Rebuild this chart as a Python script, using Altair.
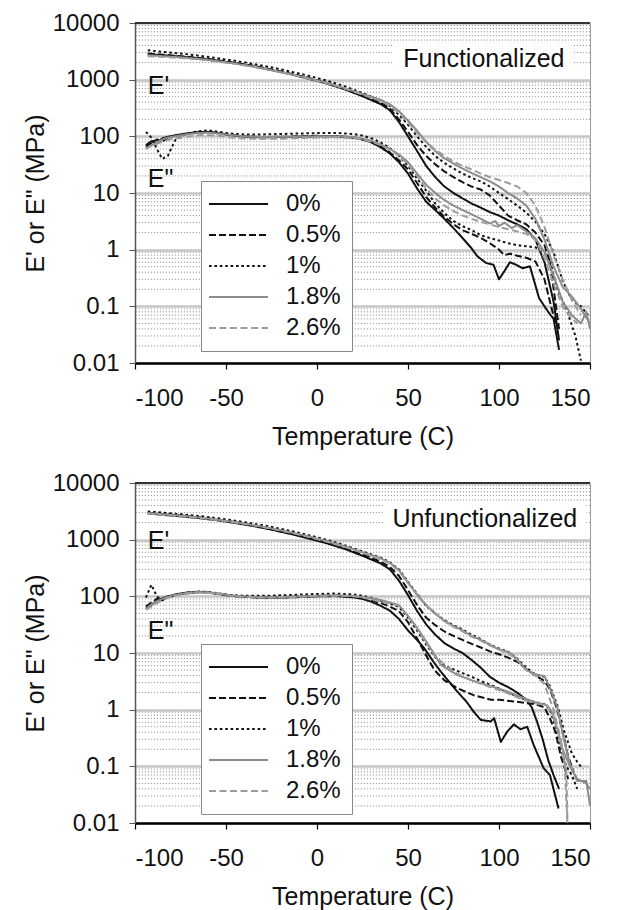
import altair as alt
import pandas as pd

FONT = "Liberation Sans"
SERIES = ["0%", "0.5%", "1%", "1.8%", "2.6%"]
COLORS = ["#111111", "#111111", "#111111", "#8c8c8c", "#9c9c9c"]
DASHES = [[1, 0], [7, 3], [2.6, 2.8], [1, 0], [7, 3.5]]
WIDTHS = [2.0, 2.0, 3.0, 2.2, 2.2]
X_TICKS = [-100, -50, 0, 50, 100, 150]
Y_TICKS = [0.01, 0.1, 1, 10, 100, 1000, 10000]
MINOR = [k * 10.0 ** n for n in range(-2, 4) for k in range(2, 10)]

# ---- low-temperature part (shared temperatures) ----
LOW_T_EP = [-93, -85, -75, -65, -55, -45, -35, -25, -15, -5, 5, 15, 25, 35, 40, 45]
LOW_T_EPP = [-94, -91, -88, -85, -82, -78, -72, -66, -60, -54, -48, -40, -30, -20, -10, 0, 10, 20, 25, 30, 35, 40, 45]

# Functionalized: storage modulus E'
F_EP_LOW = {
    "0%":   [2800, 2700, 2550, 2380, 2180, 1950, 1720, 1480, 1260, 1050, 860, 680, 510, 370, 290, 180],
    "0.5%": [2900, 2760, 2600, 2420, 2220, 1980, 1760, 1510, 1290, 1080, 880, 700, 530, 390, 310, 200],
    "1%":   [3300, 3100, 2900, 2650, 2400, 2150, 1900, 1650, 1400, 1180, 970, 770, 580, 430, 345, 240],
    "1.8%": [2700, 2600, 2480, 2320, 2130, 1920, 1700, 1470, 1260, 1060, 880, 710, 560, 440, 370, 280],
    "2.6%": [2600, 2520, 2420, 2280, 2100, 1900, 1690, 1460, 1250, 1050, 870, 700, 545, 420, 350, 260],
}
F_EP_HIGH = {
    "0%":   [(50, 100), (55, 55), (60, 30), (65, 19), (70, 13), (75, 10), (80, 8), (85, 6.5), (90, 5.5), (95, 4.6), (100, 4), (105, 3.3), (110, 2.8), (115, 2.3), (120, 1.5), (125, 0.6), (130, 0.12), (133, 0.025)],
    "0.5%": [(50, 120), (55, 70), (60, 45), (65, 32), (70, 24), (75, 19), (80, 15.5), (85, 13), (90, 11.5), (95, 9), (100, 6), (105, 4), (110, 3.3), (115, 2.8), (120, 2.0), (125, 1.2), (128, 0.6), (131, 0.12), (133, 0.04)],
    "1%":   [(50, 160), (55, 100), (60, 65), (65, 45), (70, 34), (75, 27), (80, 22), (85, 18.5), (90, 16), (95, 13), (100, 10), (105, 7.8), (110, 6), (115, 4.5), (120, 3.1), (125, 1.9), (130, 0.9), (135, 0.28), (140, 0.13), (145, 0.1), (149, 0.07)],
    "1.8%": [(50, 190), (55, 125), (60, 80), (65, 55), (70, 41), (75, 33), (80, 27), (85, 22.5), (90, 19), (95, 16), (100, 13), (105, 10), (110, 8), (115, 6), (120, 3.5), (125, 1.5), (130, 0.5), (135, 0.22), (140, 0.15), (145, 0.09), (150, 0.05)],
    "2.6%": [(50, 175), (55, 115), (60, 80), (65, 58), (70, 45), (75, 36), (80, 30), (85, 26), (90, 22), (95, 19), (100, 17), (105, 15), (110, 13), (115, 10), (120, 6), (125, 2.5), (130, 0.8), (135, 0.3), (140, 0.13), (145, 0.07)],
}
# Functionalized: loss modulus E"
F_EPP_LOW = {
    "0%":   [70, 82, 76, 92, 98, 104, 112, 118, 120, 114, 106, 99, 96, 97, 98, 100, 100, 95, 88, 78, 64, 50, 35],
    "0.5%": [65, 75, 88, 80, 95, 102, 110, 117, 119, 113, 106, 100, 97, 98, 100, 102, 101, 96, 89, 79, 66, 52, 38],
    "1%":   [120, 95, 60, 40, 45, 85, 110, 122, 128, 120, 112, 108, 108, 110, 112, 114, 115, 110, 103, 92, 78, 62, 45],
    "1.8%": [60, 70, 78, 88, 95, 100, 108, 114, 116, 112, 106, 100, 97, 98, 99, 100, 100, 97, 91, 83, 72, 60, 48],
    "2.6%": [62, 68, 74, 80, 86, 92, 98, 104, 106, 102, 96, 92, 90, 91, 93, 95, 96, 93, 87, 80, 70, 58, 45],
}
F_EPP_HIGH = {
    "0%":   [(50, 22), (55, 12), (60, 7), (65, 5), (70, 3.5), (75, 2.4), (80, 1.6), (85, 1.05), (88, 0.77), (93, 0.58), (97, 0.54), (100, 0.3), (103, 0.42), (106, 0.6), (109, 0.55), (113, 0.47), (117, 0.51), (122, 0.14), (127, 0.08), (130, 0.06), (133, 0.017)],
    "0.5%": [(50, 26), (55, 15), (60, 8.5), (65, 5.5), (70, 3.8), (75, 2.8), (80, 2.2), (85, 1.9), (90, 1.6), (95, 1.3), (100, 1.0), (103, 0.8), (106, 0.85), (110, 0.78), (115, 0.72), (120, 0.62), (125, 0.3), (128, 0.12), (131, 0.05)],
    "1%":   [(50, 30), (55, 18), (60, 11), (65, 6.5), (70, 4.4), (75, 3.2), (80, 2.6), (85, 2.2), (90, 1.8), (95, 1.6), (100, 1.45), (105, 1.3), (110, 1.2), (115, 1.15), (120, 1.1), (125, 0.9), (128, 0.65), (132, 0.2), (137, 0.09), (142, 0.03), (145, 0.011)],
    "1.8%": [(50, 35), (55, 22), (60, 14), (65, 10), (70, 7.5), (75, 6), (80, 5), (85, 4.2), (90, 3.5), (95, 2.9), (98, 3.2), (100, 2.6), (103, 3.0), (107, 2.4), (110, 2.7), (115, 2.1), (120, 1.6), (125, 0.9), (130, 0.35), (135, 0.12), (140, 0.07), (145, 0.05), (148, 0.08), (150, 0.04)],
    "2.6%": [(50, 32), (55, 20), (60, 12), (65, 8), (70, 6), (75, 4.8), (80, 4), (85, 3.5), (90, 3.1), (95, 2.8), (100, 2.5), (105, 2.3), (110, 2.1), (115, 1.9), (120, 1.5), (125, 0.7), (130, 0.25), (135, 0.1), (140, 0.06), (143, 0.05)],
}

# Unfunctionalized: storage modulus E'
U_EP_LOW = {
    "0%":   [2900, 2750, 2580, 2400, 2200, 1970, 1740, 1500, 1270, 1060, 870, 690, 520, 380, 300, 190],
    "0.5%": [3000, 2850, 2680, 2480, 2270, 2030, 1790, 1550, 1320, 1100, 900, 720, 550, 410, 330, 230],
    "1%":   [3150, 3000, 2820, 2620, 2400, 2160, 1920, 1680, 1440, 1210, 1000, 800, 620, 480, 400, 300],
    "1.8%": [2950, 2800, 2640, 2460, 2260, 2040, 1810, 1580, 1360, 1150, 950, 770, 600, 470, 390, 290],
    "2.6%": [2900, 2760, 2600, 2420, 2230, 2010, 1790, 1560, 1340, 1130, 930, 750, 585, 455, 380, 280],
}
U_EP_HIGH = {
    "0%":   [(50, 105), (55, 55), (60, 32), (65, 21), (70, 15), (75, 12), (80, 10), (85, 7.5), (90, 5.5), (95, 3.8), (100, 3.0), (105, 2.5), (110, 2.0), (115, 1.5), (118, 1.1), (121, 0.6), (124, 0.3), (127, 0.13), (130, 0.07), (133, 0.04)],
    "0.5%": [(50, 130), (55, 70), (60, 42), (65, 31), (70, 24), (75, 20), (80, 17), (85, 14.5), (90, 12.5), (95, 10.7), (100, 9.5), (105, 8.3), (110, 7), (115, 5.2), (120, 4), (125, 3.2), (128, 2.3), (132, 1.0), (135, 0.4), (138, 0.15), (141, 0.08)],
    "1%":   [(50, 180), (55, 110), (60, 68), (65, 50), (70, 38), (75, 31), (80, 26), (85, 21), (90, 17.5), (95, 14), (100, 12), (105, 10.5), (110, 8), (115, 5.5), (120, 4.2), (125, 3.8), (128, 2.6), (132, 1.2), (136, 0.4), (140, 0.17), (143, 0.12), (146, 0.09)],
    "1.8%": [(50, 175), (55, 108), (60, 70), (65, 50), (70, 37), (75, 30), (80, 25), (85, 20), (90, 17), (95, 14), (100, 11.5), (105, 10.5), (110, 7.8), (115, 5), (120, 4.2), (125, 3.9), (128, 2.4), (132, 1.1), (135.5, 0.32), (139, 0.11), (143, 0.055), (148, 0.055), (150, 0.02)],
    "2.6%": [(50, 170), (55, 105), (60, 68), (65, 49), (70, 36), (75, 29), (80, 24), (85, 19.5), (90, 16.5), (95, 13.5), (100, 11.5), (105, 10), (110, 7.5), (115, 5), (120, 4), (125, 2.8), (130, 1.0), (134, 0.3), (137, 0.08), (137.6, 0.01)],
}
# Unfunctionalized: loss modulus E"
U_EPP_LOW = {
    "0%":   [62, 70, 85, 92, 100, 108, 116, 120, 118, 110, 103, 98, 95, 95, 97, 100, 101, 96, 90, 80, 68, 56, 40],
    "0.5%": [66, 78, 90, 86, 98, 106, 114, 118, 117, 110, 103, 98, 95, 96, 99, 102, 103, 98, 93, 85, 76, 66, 55],
    "1%":   [95, 160, 100, 85, 95, 104, 115, 122, 120, 113, 106, 102, 102, 104, 107, 110, 112, 108, 102, 94, 84, 75, 65],
    "1.8%": [60, 72, 82, 90, 98, 106, 114, 119, 118, 112, 104, 99, 96, 97, 99, 102, 104, 101, 97, 92, 86, 78, 70],
    "2.6%": [58, 66, 76, 84, 94, 102, 110, 116, 115, 110, 103, 98, 95, 96, 98, 101, 103, 100, 95, 88, 80, 76, 68],
}
U_EPP_HIGH = {
    "0%":   [(50, 25), (55, 17), (59, 12), (64, 7), (68, 4.7), (73, 3), (77, 2.1), (82, 1.4), (86, 0.93), (90, 0.66), (95.5, 0.62), (97.3, 0.71), (101, 0.27), (104.5, 0.41), (108.2, 0.55), (111.8, 0.45), (115.5, 0.5), (119, 0.24), (124.5, 0.093), (128, 0.07), (132.7, 0.018)],
    "0.5%": [(50, 35), (55, 18), (60, 9), (64.5, 5), (70, 3.3), (77, 2.4), (86, 1.8), (95.5, 1.5), (100, 1.5), (108, 1.4), (115.5, 1.3), (120, 1.25), (125, 1.1), (128, 0.7), (131, 0.4), (134, 0.15), (138, 0.06)],
    "1%":   [(50, 42), (55, 25), (60, 14), (65, 8.5), (70, 6), (78, 4.7), (85, 3.8), (90, 3.2), (97, 2.6), (105, 2.0), (112, 1.6), (118, 1.4), (125, 1.25), (128, 1.0), (131, 0.5), (134, 0.2), (137, 0.1), (140, 0.07), (143, 0.04)],
    "1.8%": [(50, 45), (55, 28), (60, 16), (65, 9), (68, 6.2), (77, 4.1), (86, 3.2), (95.5, 2.6), (104.5, 2.1), (113.6, 1.6), (120, 1.35), (126.4, 1.2), (129, 0.9), (132, 0.45), (135, 0.2), (139, 0.1), (143, 0.06), (148, 0.05), (150, 0.04)],
    "2.6%": [(50, 44), (55, 27), (60, 15), (65, 8.8), (70, 6.3), (77, 4.3), (86, 3.2), (95, 2.5), (104, 2.0), (113, 1.5), (120, 1.3), (126, 1.2), (130, 0.8), (133, 0.35), (136, 0.12), (137.6, 0.01)],
}

# annotation text
PANEL_NAMES = ["Functionalized", "Unfunctionalized"]
PANEL_NAME_T = [136, 143]
PANEL_NAME_V = [2350, 2350]
EP_LABEL_V = [780, 950]
EPP_LABEL_V = [17.8, 24.6]
LABEL_T = -93
BOX_T = [(42, 141), (37, 148)]
BOX_V = (1450, 4300)
LEGEND_Y = [158, 161]


def build_rows(panel, ep_low, ep_high, epp_low, epp_high):
    rows = []
    for s in SERIES:
        pts_ep = list(zip(LOW_T_EP, ep_low[s])) + ep_high[s]
        pts_epp = list(zip(LOW_T_EPP, epp_low[s])) + epp_high[s]
        for curve, pts in (("E'", pts_ep), ('E"', pts_epp)):
            for i, (t, v) in enumerate(pts):
                rows.append({"panel": panel, "series": s, "curve": curve, "T": t, "v": v, "i": i})
    return rows


df = pd.DataFrame(
    build_rows("F", F_EP_LOW, F_EP_HIGH, F_EPP_LOW, F_EPP_HIGH)
    + build_rows("U", U_EP_LOW, U_EP_HIGH, U_EPP_LOW, U_EPP_HIGH)
)

xscale = alt.Scale(domain=[-100, 150], nice=False, zero=False)
yscale = alt.Scale(type="log", domain=[0.01, 10000], nice=False)
xaxis = alt.Axis(values=X_TICKS, labelExpr="'' + datum.value", title="Temperature (C)",
                 grid=False, tickSize=6, labelPadding=17, titlePadding=14,
                 domainColor="#000000", domainWidth=2.5, tickColor="#000000", tickWidth=1.2)
yaxis = alt.Axis(values=Y_TICKS, format="~g", title="E' or E\" (MPa)", grid=True,
                 gridColor="#c6c6c6", gridWidth=2.5, tickSize=6, labelPadding=10,
                 titlePadding=4, domainColor="#555555", domainWidth=1.5, tickColor="#555555")


def panel(idx, code):
    d = df[df.panel == code]
    X = alt.X("T:Q", scale=xscale, axis=xaxis)
    Y = alt.Y("v:Q", scale=yscale, axis=yaxis)

    minor = alt.Chart(pd.DataFrame({"v": MINOR})).mark_rule(
        color="#9a9a9a", strokeDash=[1.2, 1.8], strokeWidth=1
    ).encode(y=Y)

    box = alt.Chart(pd.DataFrame({"T": [BOX_T[idx][0]], "T2": [BOX_T[idx][1]],
                                  "v": [BOX_V[0]], "v2": [BOX_V[1]]})).mark_rect(
        fill="white").encode(x=X, x2="T2:Q", y=Y, y2="v2:Q")

    leg = alt.Legend(orient="none", legendX=66, legendY=LEGEND_Y[idx], title=None,
                     symbolType="M-2.95,0H2.95", symbolSize=400, symbolStrokeWidth=2.6,
                     symbolOffset=14.5, labelOffset=35.5, labelFontSize=24, labelFont=FONT,
                     labelColor="#111111", padding=11, rowPadding=7, fillColor="white",
                     strokeColor="#888888", direction="vertical")

    lines = alt.Chart(d).mark_line(strokeJoin="round").encode(
        x=X, y=Y,
        color=alt.Color("series:N", scale=alt.Scale(domain=SERIES, range=COLORS), legend=leg),
        strokeDash=alt.StrokeDash("series:N", scale=alt.Scale(domain=SERIES, range=DASHES), legend=leg),
        strokeWidth=alt.StrokeWidth("series:N", scale=alt.Scale(domain=SERIES, range=WIDTHS), legend=None),
        detail="curve:N",
        order="i:Q",
    )

    lbl = alt.Chart(pd.DataFrame({"T": [LABEL_T, LABEL_T], "v": [EP_LABEL_V[idx], EPP_LABEL_V[idx]],
                                  "t": ["E'", 'E"']})).mark_text(
        align="left", baseline="middle", fontSize=25, font=FONT, color="#111111"
    ).encode(x=X, y=Y, text="t:N")

    name = alt.Chart(pd.DataFrame({"T": [PANEL_NAME_T[idx]], "v": [PANEL_NAME_V[idx]],
                                   "t": [PANEL_NAMES[idx]]})).mark_text(
        align="right", baseline="middle", fontSize=25, font=FONT, color="#111111"
    ).encode(x=X, y=Y, text="t:N")

    top = alt.Chart(pd.DataFrame({"v": [10000]})).mark_rule(color="#333333", strokeWidth=2).encode(y=Y)

    return alt.layer(minor, box, lines, lbl, name, top).properties(width=455, height=340)


chart = alt.vconcat(panel(0, "F"), panel(1, "U"), spacing=20).resolve_scale(
    color="independent", strokeDash="independent", strokeWidth="independent"
).resolve_legend(color="independent", strokeDash="independent").properties(
    padding={"left": 22, "top": 10, "right": 2, "bottom": 0}
).configure(font=FONT).configure_axis(
    labelFont=FONT, titleFont=FONT, labelFontSize=24, titleFontSize=25,
    titleFontWeight="normal", labelColor="#111111", titleColor="#111111"
).configure_view(stroke="#999999", strokeWidth=1)

chart.save("out.html", embed_options={"renderer": "svg", "actions": False})
